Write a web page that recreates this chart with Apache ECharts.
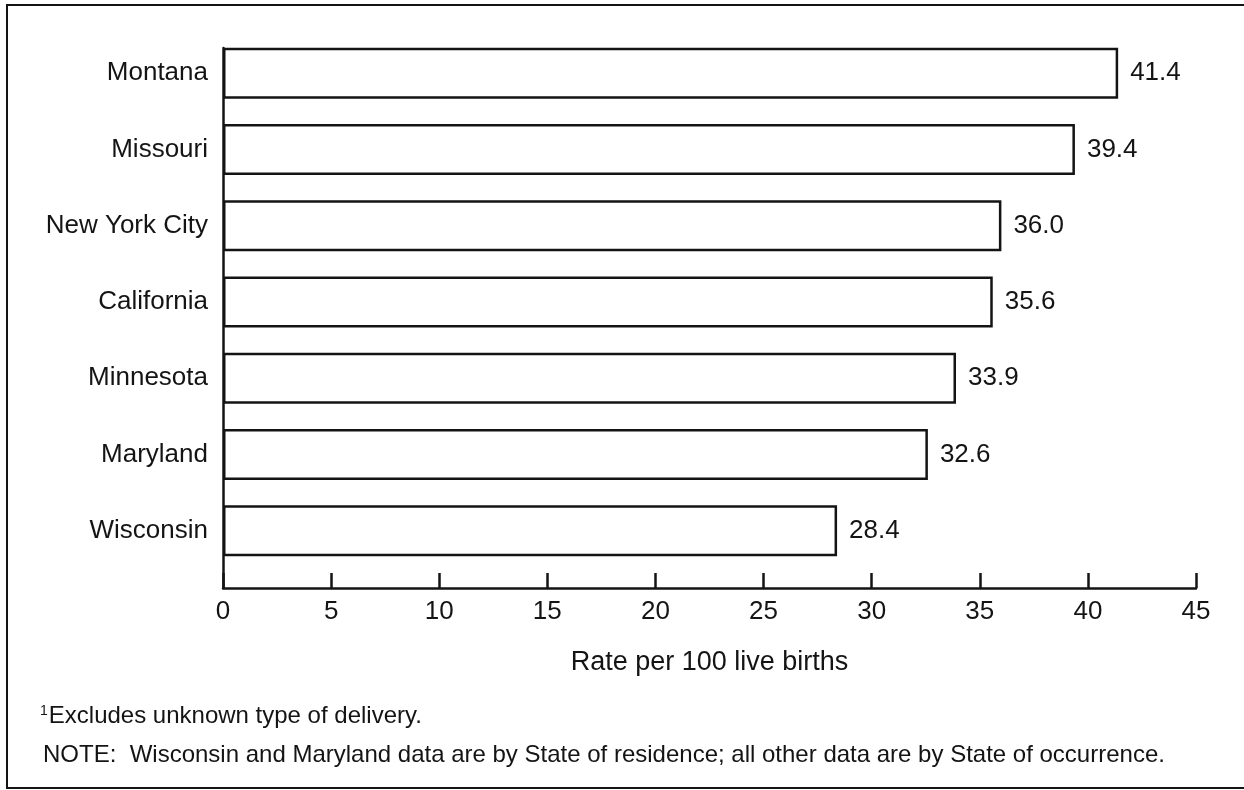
<!DOCTYPE html>
<html>
<head>
<meta charset="utf-8">
<script src="https://cdn.jsdelivr.net/npm/echarts@6/dist/echarts.min.js"></script>
<style>
html,body{margin:0;padding:0;background:#fff;}
#chart{width:1244px;height:790px;}
</style>
</head>
<body>
<div id="chart"></div>
<script>
const categories = ['Montana', 'Missouri', 'New York City', 'California', 'Minnesota', 'Maryland', 'Wisconsin'];
const values = [41.4, 39.4, 36.0, 35.6, 33.9, 32.6, 28.4];
const xTicks = [0, 5, 10, 15, 20, 25, 30, 35, 40, 45];
const axisTitle = 'Rate per 100 live births';
const footnote1 = 'Excludes unknown type of delivery.';
const footnote2 = 'NOTE:  Wisconsin and Maryland data are by State of residence; all other data are by State of occurrence.';

const FONT = '"Liberation Sans", Arial, Helvetica, sans-serif';
const INK = '#141414';

const chart = echarts.init(document.getElementById('chart'), null, {renderer: 'canvas'});
const option = {
  backgroundColor: '#ffffff',
  animation: false,
  textStyle: {fontFamily: FONT, color: INK},
  grid: [
    {left: 223, right: 48, top: 35, bottom: 221, containLabel: false},
    {left: 223, right: 48, top: 48, bottom: 202, containLabel: false}
  ],
  xAxis: [
    {gridIndex: 0, type: 'value', min: xTicks[0], max: xTicks[xTicks.length - 1], interval: 5, show: false},
    {gridIndex: 1, type: 'value', min: xTicks[0], max: xTicks[xTicks.length - 1], interval: 5,
     position: 'bottom',
     axisLine: {show: true, lineStyle: {color: INK, width: 2.5}},
     axisTick: {show: true, inside: true, length: 15, lineStyle: {color: INK, width: 2.5}},
     axisLabel: {show: true, margin: 11, fontSize: 26, color: INK, fontFamily: FONT},
     splitLine: {show: false},
     name: axisTitle, nameLocation: 'middle', nameGap: 61,
     nameTextStyle: {fontSize: 27, color: INK, fontFamily: FONT}
    }
  ],
  yAxis: [
    {gridIndex: 0, type: 'category', data: categories, inverse: true,
     axisLine: {show: false}, axisTick: {show: false},
     axisLabel: {margin: 15, fontSize: 26, color: INK, fontFamily: FONT}
    },
    {gridIndex: 1, type: 'value', min: 0, max: 1,
     axisLine: {show: true, lineStyle: {color: INK, width: 2.5}},
     axisTick: {show: false}, axisLabel: {show: false}, splitLine: {show: false}
    }
  ],
  series: [{
    type: 'bar',
    xAxisIndex: 0, yAxisIndex: 0,
    data: values,
    barWidth: 51,
    itemStyle: {color: '#ffffff', borderColor: INK, borderWidth: 2.5},
    label: {
      show: true, position: 'right', distance: 12,
      fontSize: 26, color: INK, fontFamily: FONT,
      formatter: p => p.value.toFixed(1)
    }
  }],
  graphic: [
    {type: 'polyline', silent: true,
     shape: {points: [[1244, 5], [7, 5], [7, 788], [1244, 788]]},
     style: {stroke: INK, lineWidth: 2, fill: null}},
    {type: 'text', left: 40, top: 704, silent: true,
     style: {text: '{sup|1}' + footnote1,
       rich: {sup: {fontSize: 14, verticalAlign: 'top', padding: [0, 1, 11, 0], fontFamily: FONT, fill: INK}},
       font: '24px ' + FONT, fill: INK}},
    {type: 'text', left: 43, top: 743, silent: true,
     style: {text: footnote2, font: '24px ' + FONT, fill: INK}}
  ]
};
chart.setOption(option);
</script>
</body>
</html>
